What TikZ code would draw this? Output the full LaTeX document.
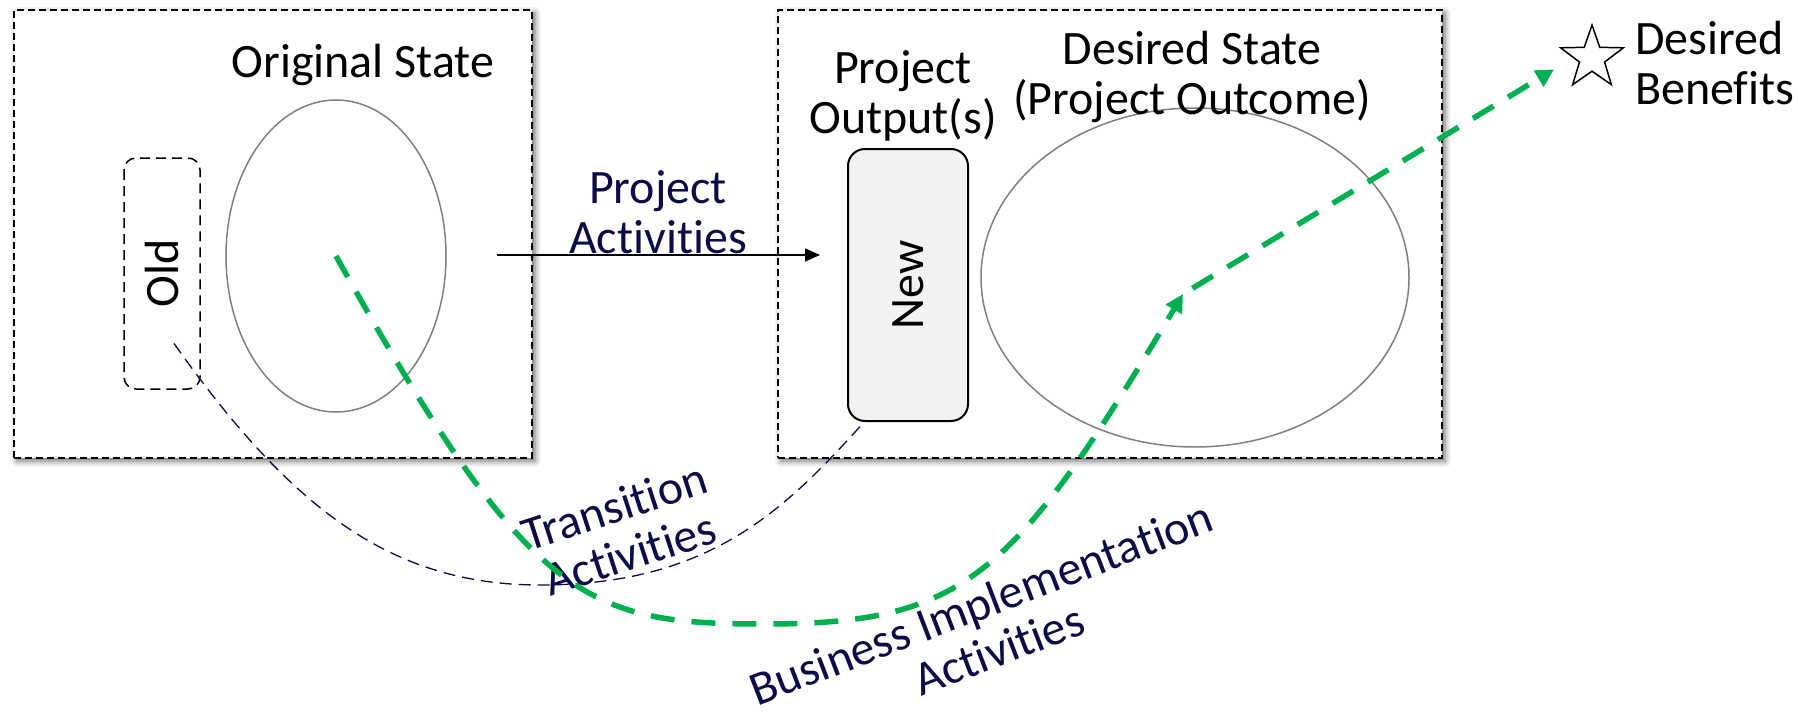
\documentclass[tikz,border=0pt]{standalone}
\usepackage{fontspec}
\setmainfont{Carlito}[Ligatures=NoCommon]
\usepackage{tikz}
\usepackage{xcolor}
\usetikzlibrary{shapes, arrows.meta, shadows.blur}

\definecolor{navytext}{HTML}{0C0C48}
\definecolor{benefitgreen}{HTML}{00B050}
\definecolor{stategray}{HTML}{808080}
\definecolor{outputfill}{HTML}{F2F2F2}

\begin{document}
\begin{tikzpicture}[x=1pt, y=-1pt,
        font=\fontsize{48}{50}\selectfont,
        statebox/.style={draw, line width=2pt, dash pattern=on 7pt off 4pt, fill=white,
            minimum height=448pt, minimum width=#1,
            blur shadow={shadow xshift=3pt, shadow yshift=-3pt, shadow blur radius=6pt, shadow opacity=60}},
        stateoval/.style={ellipse, draw=stategray, line width=1.5pt},
        statetext/.style={inner sep=0pt, align=center, anchor=base},
        activity/.style={inner sep=0pt, align=center, text=navytext},
        transition/.style={draw=navytext, line width=1.3pt, dash pattern=on 12pt off 7pt},
        benefit/.style={draw=benefitgreen, line width=5.5pt, dash pattern=on 24pt off 17pt,
            -{Triangle[length=18pt, width=18pt]}}]
        \useasboundingbox (0,0) rectangle (1798,712);

        \node[statebox=518pt] (before) at (273, 234) {};
        \node[statebox=664pt] (after) at (1110, 234) {};

        \node[stateoval, minimum width=220pt, minimum height=312pt] (orig) at (336, 256) {};
        \node[stateoval, minimum width=428pt, minimum height=339pt] (outcome) at (1195, 277.5) {};

        \node[draw, line width=1.5pt, dash pattern=on 10pt off 6pt, rounded corners=12pt, rotate=90,
            minimum width=231pt, minimum height=76pt] (old) at (162, 273.5) {Old};
        \node[draw, fill=outputfill, line width=2pt, rounded corners=17pt, rotate=90,
            minimum width=272pt, minimum height=120pt] (new) at (908, 285) {New};

        % two-line texts sit on the baseline of their last line
        \node[statetext] (origtext) at (363, 77) {Original State};
        \node[statetext] (outputtext) at (903, 133) {Project\\Output(s)};
        \node[statetext] (outcometext) at (1192, 114) {Desired State\\(Project Outcome)};
        \node[star, star points=5, star point ratio=2.5, draw, line width=1.5pt,
            minimum size=66pt, inner sep=0pt] (goalstar) at (1592, 58) {};
        \node[statetext, anchor=base west, align=left] (goaltext) at (1635, 104) {Desired\\Benefits};

        \node[activity, anchor=base] (projtext) at (658, 253) {Project\\Activities};
        \node[activity, rotate=18] (transtext) at (622, 530) {Transition\\Activities};
        \node[activity, rotate=21] (bustext) at (990, 626) {Business Implementation\\Activities};

        \coordinate (pa-from) at (497, 255);
        \coordinate (pa-to) at (820, 255);
        \coordinate (reached) at (1183, 294);

        \draw[line width=1.6pt, -{Triangle[length=15pt, width=13pt]}] (pa-from) -- (pa-to);
        \draw[transition] ([xshift=12pt, yshift=-70pt]old.center)
            .. controls (290, 507) and (390, 585) .. (540, 585)
            .. controls (710, 585) and (785, 510) .. ([xshift=-43pt, yshift=-136pt]new.center);
        \draw[benefit] (orig.center)
            .. controls (530, 604) and (585, 624) .. (765, 624)
            .. controls (965, 624) and (1014, 577) .. (reached);
        \draw[benefit, shorten <=11pt, shorten >=22pt] (reached) -- (goalstar.west);
    \end{tikzpicture}
\end{document}
